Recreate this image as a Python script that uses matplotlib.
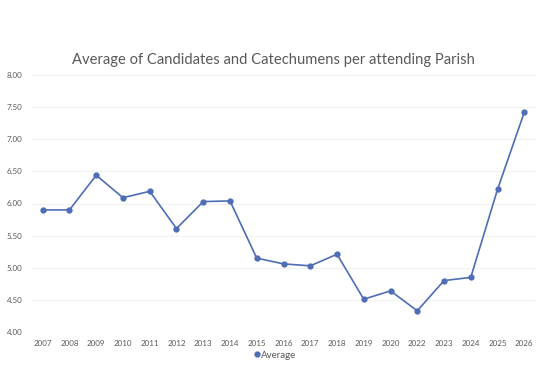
import matplotlib
matplotlib.use("Agg")
import matplotlib.pyplot as plt
from matplotlib.lines import Line2D

years = ["2007", "2008", "2009", "2010", "2011", "2012", "2013", "2014", "2015", "2016",
         "2017", "2018", "2019", "2020", "2022", "2023", "2024", "2025", "2026"]
average = [5.90, 5.90, 6.44, 6.09, 6.19, 5.61, 6.03, 6.04, 5.15, 5.06,
           5.03, 5.21, 4.51, 4.64, 4.33, 4.80, 4.85, 6.22, 7.42]
yticks = [4.00, 4.50, 5.00, 5.50, 6.00, 6.50, 7.00, 7.50, 8.00]

plt.rcParams['font.family'] = ['Lato', 'DejaVu Sans']

fig = plt.figure(figsize=(5.47, 3.91), dpi=100)
ax = fig.add_axes([32/547, 1 - 332/391, (535-32)/547, (332-75)/391])

x = list(range(len(years)))
color = "#4e6db5"
ax.plot(x, average, color=color, lw=1.2, marker='o', ms=3.5, label="Average")

ax.set_xlim(-0.4, len(years) - 0.6)
ax.set_ylim(4.0, 8.0)
ax.set_yticks(yticks)
ax.set_yticklabels([f"{v:.2f}" for v in yticks])
ax.set_xticks(x)
ax.set_xticklabels(years)
ax.tick_params(axis='both', length=0, labelsize=5.8, labelcolor="#595959")
ax.tick_params(axis='y', pad=7)
ax.tick_params(axis='x', pad=6)
ax.grid(axis='y', color="#f2f2f2", lw=0.8)
ax.set_axisbelow(True)
for s in ax.spines.values():
    s.set_visible(False)

fig.text(273/547, 1 - 60/391, "Average of Candidates and Catechumens per attending Parish",
         ha='center', va='center', fontsize=10.6, color="#595959")

handle = Line2D([], [], color=color, marker='o', ms=3.5, lw=0)
fig.legend([handle], ["Average"], loc='center', bbox_to_anchor=(275/547, 1 - 355/391),
           frameon=False, fontsize=7, labelcolor="#595959", handlelength=0.6,
           handletextpad=0.1, borderpad=0)

fig.savefig("out.png", dpi=100, facecolor="white")
